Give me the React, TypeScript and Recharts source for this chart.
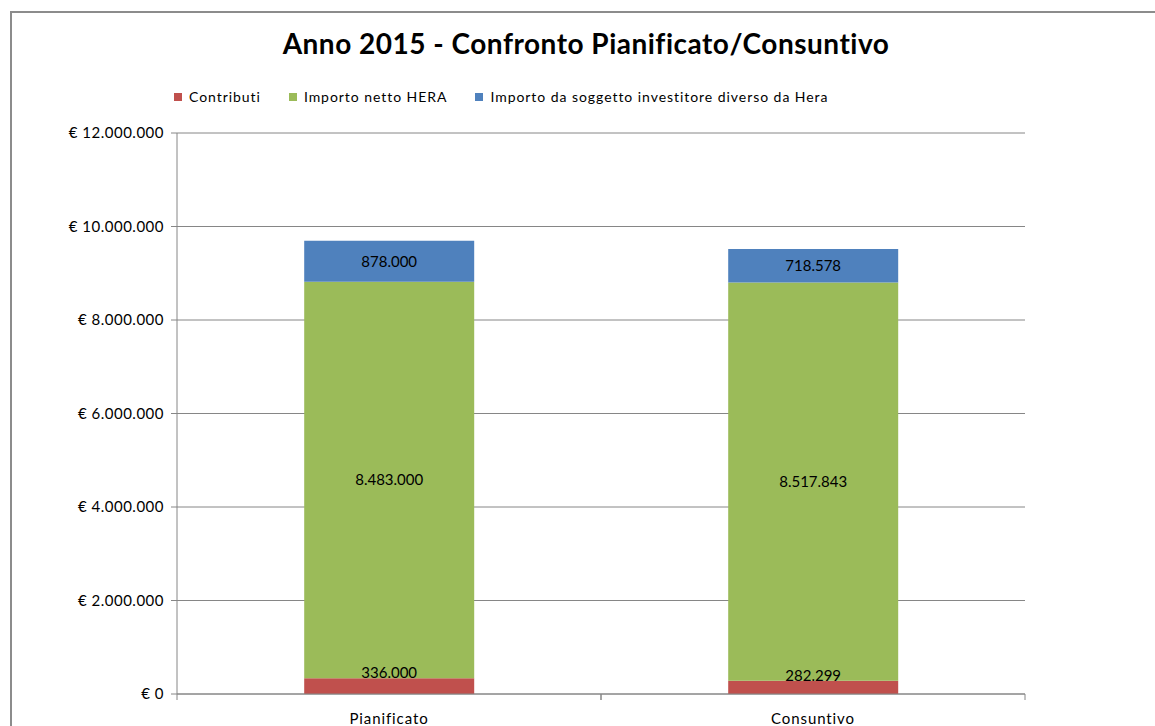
import React from "react";
import { BarChart, Bar, XAxis, YAxis, CartesianGrid, LabelList } from "recharts";

const categories = ["Pianificato", "Consuntivo"];
const contributi = [336000, 282299];
const importoNettoHera = [8483000, 8517843];
const importoAltroInvestitore = [878000, 718578];
const yTicks = [0, 2000000, 4000000, 6000000, 8000000, 10000000, 12000000];

const seriesInfo = [
  { key: "contributi", name: "Contributi", color: "#C0504D" },
  { key: "netto", name: "Importo netto HERA", color: "#9BBB59" },
  { key: "altro", name: "Importo da soggetto investitore diverso da Hera", color: "#4F81BD" },
];

const data = categories.map((c, i) => ({
  name: c,
  contributi: contributi[i],
  netto: importoNettoHera[i],
  altro: importoAltroInvestitore[i],
}));

const FONT = "Lato, 'Open Sans', sans-serif";

const fmt = (v: number) => String(Math.round(v)).replace(/\B(?=(\d{3})+(?!\d))/g, ".");

const XTick = (props: any) => {
  const { x, y, payload, width } = props;
  const half = width / categories.length / 2;
  return (
    <g>
      <line x1={x - half} y1={y - 8} x2={x - half} y2={y - 2} stroke="#868686" />
      <line x1={x + half} y1={y - 8} x2={x + half} y2={y - 2} stroke="#868686" />
      <text x={x} y={y + 22} textAnchor="middle" fontFamily={FONT} fontSize={15} letterSpacing={0.9} fill="#000">
        {payload.value}
      </text>
    </g>
  );
};

export default function App() {
  return (
    <div style={{ position: "absolute", left: 0, top: 0, width: 1155, height: 726, overflow: "hidden", background: "#fff" }}>
      <div style={{ position: "absolute", left: 10, top: 11, width: 1300, height: 900, border: "2px solid #8c8c8c" }} />
      <div style={{ position: "absolute", left: 0, top: 26, width: 1172, textAlign: "center", fontFamily: FONT, fontWeight: 700, fontSize: 28, letterSpacing: 0.5, color: "#000" }}>
        Anno 2015 - Confronto Pianificato/Consuntivo
      </div>
      <div style={{ position: "absolute", left: 174, top: 88, display: "flex", fontFamily: FONT, fontSize: 14, letterSpacing: 0.95, color: "#000" }}>
        {seriesInfo.map((s, i) => (
          <div key={s.key} style={{ display: "flex", alignItems: "center", marginRight: 28 }}>
            <span style={{ display: "inline-block", width: 8, height: 8, background: s.color, marginRight: 7 }} />
            <span>{s.name}</span>
          </div>
        ))}
      </div>
      <div style={{ position: "absolute", left: 0, top: 0 }}>
        <BarChart width={1155} height={726} data={data} margin={{ top: 133, right: 130, bottom: 0, left: 0 }} barCategoryGap="30%">
          <CartesianGrid vertical={false} stroke="#868686" />
          <XAxis dataKey="name" height={32} axisLine={{ stroke: "#868686" }} tickLine={false} tick={<XTick />} interval={0} />
          <YAxis
            width={177}
            domain={[0, 12000000]}
            ticks={yTicks}
            interval={0}
            axisLine={{ stroke: "#868686" }}
            tickLine={{ stroke: "#868686" }}
            tickSize={6}
            tickMargin={7}
            tickFormatter={(v: number) => "€ " + fmt(v)}
            tick={{ fontFamily: FONT, fontSize: 15, letterSpacing: 0.5, fill: "#000" }}
          />
          {seriesInfo.map((s, idx) => (
            <Bar key={s.key} dataKey={s.key} name={s.name} stackId="a" fill={s.color} isAnimationActive={false}>
              <LabelList
                dataKey={s.key}
                position={idx === 0 ? "top" : "center"}
                offset={idx === 0 ? 0 : 5}
                formatter={(v: any) => fmt(Number(v))}
                style={{ fontFamily: FONT, fontSize: 15, fill: "#000" }}
              />
            </Bar>
          ))}
        </BarChart>
      </div>
    </div>
  );
}
